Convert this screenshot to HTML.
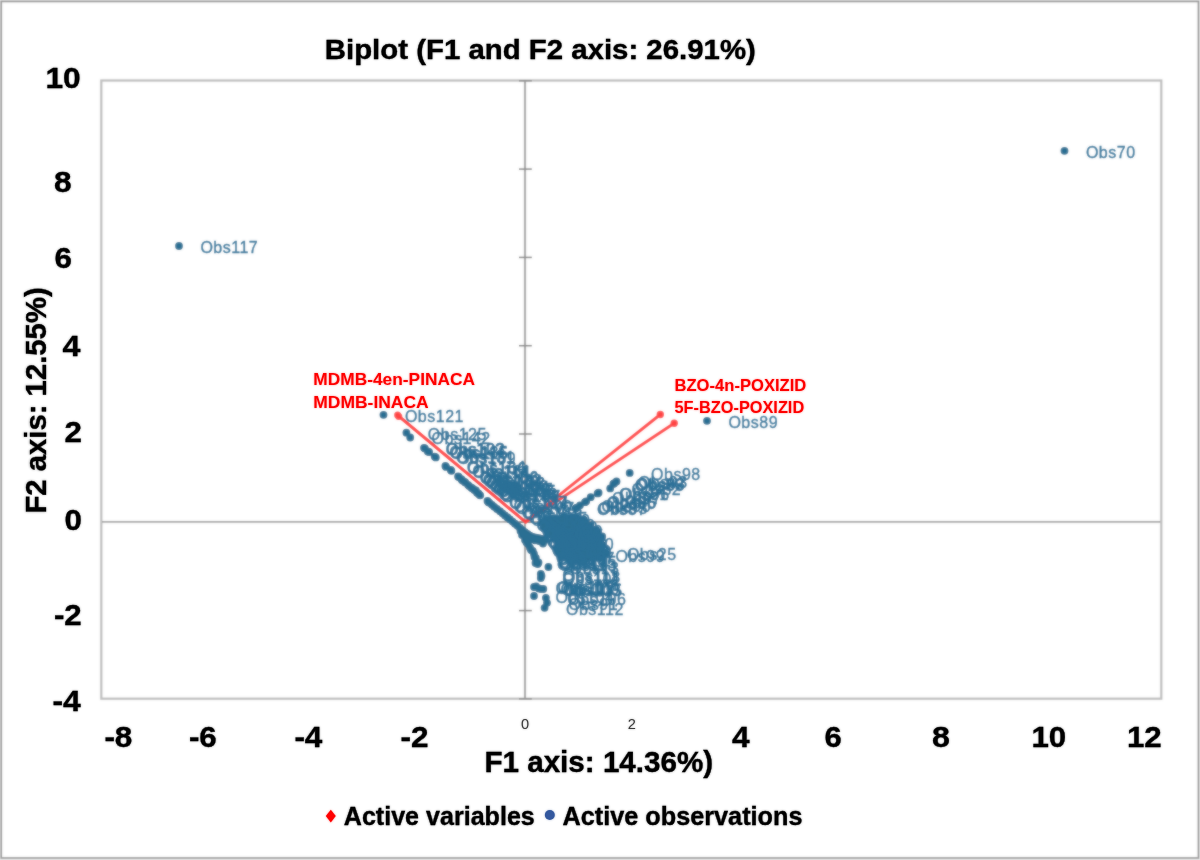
<!DOCTYPE html>
<html lang="en">
<head>
<meta charset="utf-8">
<title>Biplot (F1 and F2 axis: 26.91%)</title>
<style>
html,body{margin:0;padding:0;background:#fff;}
body{width:1200px;height:860px;overflow:hidden;font-family:"Liberation Sans",sans-serif;}
svg{display:block;}
text{font-family:"Liberation Sans",sans-serif;}
.b{font-weight:bold;fill:#000;stroke:#000;stroke-width:0.3px;}
.tk{font-size:29.8px;}
.obs text{font-size:16px;fill:#2c7198;letter-spacing:0.5px;stroke:#2c7198;stroke-width:0.35px;}
.var text{font-size:16.4px;font-weight:bold;fill:#ff0000;}
</style>
</head>
<body>
<svg width="1200" height="860" viewBox="0 0 1200 860">
<defs><filter id="soft" x="0" y="0" width="1200" height="860" filterUnits="userSpaceOnUse"><feGaussianBlur stdDeviation="0.9"/></filter></defs>
<g id="thin">
<rect x="0" y="0" width="1200" height="860" fill="#e6e6e6"/>
<rect x="1.3" y="1.5" width="1197.1" height="856.4" fill="#ffffff" stroke="#9a9a9a" stroke-width="1.6"/>
<rect x="101.3" y="80.5" width="1060" height="618.2" fill="none" stroke="#bcbcbc" stroke-width="2.2"/>
<g fill="none">
<line x1="102" x2="1160.5" y1="521.9" y2="521.9" stroke="#a4a4a4" stroke-width="1.7"/>
<line x1="525" x2="525" y1="81" y2="698" stroke="#a6a6a6" stroke-width="2.1"/>
<g stroke="#868686" stroke-width="1.5">
<line x1="519" x2="531.8" y1="80.8" y2="80.8"/><line x1="519" x2="531.8" y1="169.1" y2="169.1"/><line x1="519" x2="531.8" y1="257.4" y2="257.4"/><line x1="519" x2="531.8" y1="345.7" y2="345.7"/><line x1="519" x2="531.8" y1="434" y2="434"/><line x1="519" x2="531.8" y1="522.3" y2="522.3"/><line x1="519" x2="531.8" y1="610.6" y2="610.6"/><line x1="519" x2="531.8" y1="698.9" y2="698.9"/>
</g>
</g>
<g fill="#2b6f93">
<circle cx="179" cy="246" r="3.9"/>
<circle cx="1064.5" cy="150.8" r="3.9"/>
<circle cx="707" cy="420.8" r="3.9"/>
<circle cx="383.5" cy="414.8" r="3.9"/>
<circle cx="406.4" cy="432.7" r="3.9"/>
<circle cx="410.2" cy="437.5" r="3.9"/>
<circle cx="424" cy="447.8" r="3.9"/>
<circle cx="427.8" cy="451.5" r="3.9"/>
<circle cx="434.7" cy="456.6" r="3.9"/>
<circle cx="445.4" cy="466" r="3.9"/>
<circle cx="450.8" cy="470" r="3.9"/>
<circle cx="458.1" cy="476.5" r="3.9"/>
<circle cx="461.4" cy="479.2" r="3.9"/>
<circle cx="464.6" cy="481.8" r="3.9"/>
<circle cx="468" cy="484.8" r="3.9"/>
<circle cx="471.4" cy="487.7" r="3.9"/>
<circle cx="474.3" cy="490" r="3.9"/>
<circle cx="477" cy="492.8" r="3.9"/>
<circle cx="479.5" cy="494.8" r="3.9"/>
<circle cx="487.5" cy="501" r="3.9"/>
<circle cx="489.5" cy="502.8" r="3.9"/>
<circle cx="492" cy="504.8" r="3.9"/>
<circle cx="494.3" cy="506.8" r="3.9"/>
<circle cx="497" cy="509" r="3.9"/>
<circle cx="500" cy="511.2" r="3.9"/>
<circle cx="502.5" cy="513.3" r="3.9"/>
<circle cx="505" cy="515.4" r="3.9"/>
<circle cx="507.5" cy="517.4" r="3.9"/>
<circle cx="510" cy="519.4" r="3.9"/>
<circle cx="512.6" cy="521.6" r="3.9"/>
<circle cx="515" cy="523.7" r="3.9"/>
<circle cx="517.5" cy="525.8" r="3.9"/>
<circle cx="520" cy="528" r="3.9"/>
<circle cx="522.5" cy="530.2" r="3.9"/>
<circle cx="525" cy="532.2" r="3.9"/>
<circle cx="527.5" cy="534" r="3.9"/>
<circle cx="530" cy="535.6" r="3.9"/>
<circle cx="533" cy="536.8" r="3.9"/>
<circle cx="536" cy="537.6" r="3.9"/>
<circle cx="539" cy="538.2" r="3.9"/>
<circle cx="542" cy="538.8" r="3.9"/>
<circle cx="545" cy="539.4" r="3.9"/>
<circle cx="520.5" cy="531" r="3.9"/>
<circle cx="523.5" cy="534" r="3.9"/>
<circle cx="527" cy="537" r="3.9"/>
<circle cx="531" cy="539" r="3.9"/>
<circle cx="535" cy="540.3" r="3.9"/>
<circle cx="539" cy="541" r="3.9"/>
<circle cx="424.9" cy="448.4" r="3.9"/>
<circle cx="429.1" cy="452" r="3.9"/>
<circle cx="435.8" cy="457.4" r="3.9"/>
<circle cx="446.1" cy="466.9" r="3.9"/>
<circle cx="451.4" cy="470.8" r="3.9"/>
<circle cx="458.8" cy="477" r="3.9"/>
<circle cx="462.4" cy="480.4" r="3.9"/>
<circle cx="465.3" cy="482.4" r="3.9"/>
<circle cx="469.2" cy="486.1" r="3.9"/>
<circle cx="472.6" cy="488.5" r="3.9"/>
<circle cx="475.9" cy="490.4" r="3.9"/>
<circle cx="478.5" cy="493.5" r="3.9"/>
<circle cx="480.2" cy="495.3" r="3.9"/>
<circle cx="488.4" cy="502.2" r="3.9"/>
<circle cx="522" cy="535" r="3.9"/>
<circle cx="525" cy="540" r="3.9"/>
<circle cx="528" cy="544" r="3.9"/>
<circle cx="530" cy="547.7" r="3.9"/>
<circle cx="532.7" cy="551" r="3.9"/>
<circle cx="534" cy="554" r="3.9"/>
<circle cx="535.8" cy="558" r="3.9"/>
<circle cx="536.4" cy="561.6" r="3.9"/>
<circle cx="537.7" cy="564" r="3.9"/>
<circle cx="548.4" cy="567" r="3.9"/>
<circle cx="540.8" cy="574" r="3.9"/>
<circle cx="540.8" cy="578" r="3.9"/>
<circle cx="534" cy="587" r="3.9"/>
<circle cx="539" cy="588.4" r="3.9"/>
<circle cx="543.3" cy="589" r="3.9"/>
<circle cx="534" cy="596" r="3.9"/>
<circle cx="545.9" cy="597.8" r="3.9"/>
<circle cx="547" cy="602.8" r="3.9"/>
<circle cx="544.6" cy="607.8" r="3.9"/>
<circle cx="526.5" cy="542.5" r="3.9"/>
<circle cx="531" cy="550" r="3.9"/>
<circle cx="534.5" cy="557" r="3.9"/>
<circle cx="538.5" cy="562.5" r="3.9"/>
<circle cx="536" cy="586.5" r="3.9"/>
<circle cx="541" cy="589" r="3.9"/>
<circle cx="535.5" cy="563" r="3.9"/>
<circle cx="541.5" cy="576" r="3.9"/>
<circle cx="575.6" cy="508.5" r="3.9"/>
<circle cx="580" cy="505.3" r="3.9"/>
<circle cx="585" cy="502.2" r="3.9"/>
<circle cx="590.7" cy="497.2" r="3.9"/>
<circle cx="597.6" cy="493.4" r="3.9"/>
<circle cx="610.2" cy="488.4" r="3.9"/>
<circle cx="613.3" cy="484" r="3.9"/>
<circle cx="616.5" cy="481.5" r="3.9"/>
<circle cx="629.7" cy="472.9" r="3.9"/>
<circle cx="576.8" cy="507.6" r="3.9"/>
<circle cx="586.2" cy="501.3" r="3.9"/>
<circle cx="598.6" cy="492.7" r="3.9"/>
<circle cx="614.3" cy="483.2" r="3.9"/>
<circle cx="554.3" cy="518.2" r="3.9"/>
<circle cx="561.1" cy="518.4" r="3.9"/>
<circle cx="563.6" cy="517.6" r="3.9"/>
<circle cx="567.5" cy="518.4" r="3.9"/>
<circle cx="571.1" cy="518.4" r="3.9"/>
<circle cx="573.3" cy="517.5" r="3.9"/>
<circle cx="576.5" cy="518.4" r="3.9"/>
<circle cx="546.6" cy="520.6" r="3.9"/>
<circle cx="549.6" cy="519.6" r="3.9"/>
<circle cx="553" cy="519.8" r="3.9"/>
<circle cx="556.3" cy="519.6" r="3.9"/>
<circle cx="558.8" cy="519.8" r="3.9"/>
<circle cx="562.1" cy="520.1" r="3.9"/>
<circle cx="565" cy="521.1" r="3.9"/>
<circle cx="569.2" cy="519.8" r="3.9"/>
<circle cx="571.7" cy="520.1" r="3.9"/>
<circle cx="575" cy="519.7" r="3.9"/>
<circle cx="578.9" cy="521.3" r="3.9"/>
<circle cx="581.3" cy="520.4" r="3.9"/>
<circle cx="583.8" cy="519.7" r="3.9"/>
<circle cx="542.2" cy="522.9" r="3.9"/>
<circle cx="545.2" cy="523.6" r="3.9"/>
<circle cx="548.9" cy="523.6" r="3.9"/>
<circle cx="551.6" cy="522.6" r="3.9"/>
<circle cx="555.6" cy="524" r="3.9"/>
<circle cx="558.8" cy="523.6" r="3.9"/>
<circle cx="561.8" cy="523.5" r="3.9"/>
<circle cx="563.9" cy="523.1" r="3.9"/>
<circle cx="567.2" cy="522.2" r="3.9"/>
<circle cx="569.7" cy="522.7" r="3.9"/>
<circle cx="573.2" cy="523.4" r="3.9"/>
<circle cx="577.6" cy="523" r="3.9"/>
<circle cx="580.6" cy="524" r="3.9"/>
<circle cx="583.8" cy="522.8" r="3.9"/>
<circle cx="585.5" cy="522.6" r="3.9"/>
<circle cx="543.9" cy="526.3" r="3.9"/>
<circle cx="548.1" cy="525.6" r="3.9"/>
<circle cx="550.2" cy="526.6" r="3.9"/>
<circle cx="553.9" cy="525.2" r="3.9"/>
<circle cx="555.9" cy="525.2" r="3.9"/>
<circle cx="560.4" cy="526.3" r="3.9"/>
<circle cx="562.2" cy="526.4" r="3.9"/>
<circle cx="566.8" cy="526.1" r="3.9"/>
<circle cx="568.7" cy="525.9" r="3.9"/>
<circle cx="571.4" cy="524.9" r="3.9"/>
<circle cx="576" cy="526.1" r="3.9"/>
<circle cx="578.3" cy="526.6" r="3.9"/>
<circle cx="581.3" cy="526.5" r="3.9"/>
<circle cx="585.1" cy="525.3" r="3.9"/>
<circle cx="587.2" cy="525.4" r="3.9"/>
<circle cx="590.2" cy="525.9" r="3.9"/>
<circle cx="545.8" cy="527.6" r="3.9"/>
<circle cx="548.7" cy="527.9" r="3.9"/>
<circle cx="551.1" cy="529" r="3.9"/>
<circle cx="554.5" cy="528.4" r="3.9"/>
<circle cx="558.6" cy="528.6" r="3.9"/>
<circle cx="560.9" cy="528.5" r="3.9"/>
<circle cx="564.4" cy="529" r="3.9"/>
<circle cx="566.7" cy="528.6" r="3.9"/>
<circle cx="570.1" cy="528.1" r="3.9"/>
<circle cx="574.1" cy="528.5" r="3.9"/>
<circle cx="576.9" cy="529" r="3.9"/>
<circle cx="580.6" cy="528.4" r="3.9"/>
<circle cx="583.2" cy="528.5" r="3.9"/>
<circle cx="586.1" cy="528.8" r="3.9"/>
<circle cx="589.1" cy="528.5" r="3.9"/>
<circle cx="592.2" cy="529.3" r="3.9"/>
<circle cx="547.8" cy="531.9" r="3.9"/>
<circle cx="549.8" cy="531.6" r="3.9"/>
<circle cx="553.8" cy="530.5" r="3.9"/>
<circle cx="557.3" cy="532" r="3.9"/>
<circle cx="559.2" cy="532" r="3.9"/>
<circle cx="562.6" cy="531.2" r="3.9"/>
<circle cx="566.8" cy="531.8" r="3.9"/>
<circle cx="568.4" cy="531.1" r="3.9"/>
<circle cx="572.1" cy="530.9" r="3.9"/>
<circle cx="574.7" cy="530.9" r="3.9"/>
<circle cx="578.7" cy="530.3" r="3.9"/>
<circle cx="581.5" cy="531.1" r="3.9"/>
<circle cx="583.6" cy="530.9" r="3.9"/>
<circle cx="587.8" cy="531.2" r="3.9"/>
<circle cx="589.9" cy="532.1" r="3.9"/>
<circle cx="594.3" cy="532" r="3.9"/>
<circle cx="596.2" cy="530.8" r="3.9"/>
<circle cx="549" cy="534.2" r="3.9"/>
<circle cx="551.2" cy="533.1" r="3.9"/>
<circle cx="555.4" cy="533.7" r="3.9"/>
<circle cx="557.4" cy="534.7" r="3.9"/>
<circle cx="561.5" cy="534.4" r="3.9"/>
<circle cx="563.6" cy="534.5" r="3.9"/>
<circle cx="566.7" cy="534.5" r="3.9"/>
<circle cx="570.5" cy="533.6" r="3.9"/>
<circle cx="573.7" cy="534.6" r="3.9"/>
<circle cx="576.3" cy="533.2" r="3.9"/>
<circle cx="579.9" cy="533.4" r="3.9"/>
<circle cx="582.2" cy="533.3" r="3.9"/>
<circle cx="585.2" cy="533.3" r="3.9"/>
<circle cx="588.8" cy="533.5" r="3.9"/>
<circle cx="592.7" cy="533.5" r="3.9"/>
<circle cx="595.4" cy="533.3" r="3.9"/>
<circle cx="598.2" cy="533" r="3.9"/>
<circle cx="553.8" cy="537.4" r="3.9"/>
<circle cx="556.3" cy="537.2" r="3.9"/>
<circle cx="560.1" cy="536.8" r="3.9"/>
<circle cx="562.6" cy="536.3" r="3.9"/>
<circle cx="565.1" cy="535.9" r="3.9"/>
<circle cx="568.2" cy="537" r="3.9"/>
<circle cx="571.7" cy="536" r="3.9"/>
<circle cx="574.5" cy="537.2" r="3.9"/>
<circle cx="579" cy="536.9" r="3.9"/>
<circle cx="581" cy="536.1" r="3.9"/>
<circle cx="584.1" cy="536.5" r="3.9"/>
<circle cx="587" cy="536.5" r="3.9"/>
<circle cx="590.3" cy="537.4" r="3.9"/>
<circle cx="594.7" cy="536.7" r="3.9"/>
<circle cx="596.4" cy="537.4" r="3.9"/>
<circle cx="599.7" cy="536.3" r="3.9"/>
<circle cx="602.2" cy="536.4" r="3.9"/>
<circle cx="554.7" cy="538.8" r="3.9"/>
<circle cx="558.3" cy="539.3" r="3.9"/>
<circle cx="561.7" cy="539.6" r="3.9"/>
<circle cx="564.7" cy="540" r="3.9"/>
<circle cx="567.3" cy="539" r="3.9"/>
<circle cx="571.4" cy="538.6" r="3.9"/>
<circle cx="574.1" cy="539.5" r="3.9"/>
<circle cx="575.9" cy="539.9" r="3.9"/>
<circle cx="580.6" cy="539.5" r="3.9"/>
<circle cx="583.4" cy="539.8" r="3.9"/>
<circle cx="585.4" cy="539.3" r="3.9"/>
<circle cx="589.2" cy="539.9" r="3.9"/>
<circle cx="592.8" cy="539.9" r="3.9"/>
<circle cx="595.5" cy="540" r="3.9"/>
<circle cx="598.8" cy="539.6" r="3.9"/>
<circle cx="601.1" cy="538.4" r="3.9"/>
<circle cx="556.9" cy="541.2" r="3.9"/>
<circle cx="560.1" cy="541.5" r="3.9"/>
<circle cx="562" cy="541.5" r="3.9"/>
<circle cx="566.3" cy="541.4" r="3.9"/>
<circle cx="569.4" cy="542.8" r="3.9"/>
<circle cx="572.1" cy="541.8" r="3.9"/>
<circle cx="575.2" cy="542.3" r="3.9"/>
<circle cx="578.8" cy="542.2" r="3.9"/>
<circle cx="581.7" cy="541.2" r="3.9"/>
<circle cx="583.9" cy="541.5" r="3.9"/>
<circle cx="588" cy="541.6" r="3.9"/>
<circle cx="590.8" cy="541.1" r="3.9"/>
<circle cx="593" cy="541.6" r="3.9"/>
<circle cx="597.2" cy="542.3" r="3.9"/>
<circle cx="600.3" cy="541.6" r="3.9"/>
<circle cx="557.6" cy="545.5" r="3.9"/>
<circle cx="560.7" cy="544.8" r="3.9"/>
<circle cx="563.7" cy="544.7" r="3.9"/>
<circle cx="568.3" cy="544" r="3.9"/>
<circle cx="571.1" cy="544.7" r="3.9"/>
<circle cx="574.3" cy="545" r="3.9"/>
<circle cx="576.3" cy="545.4" r="3.9"/>
<circle cx="579.8" cy="543.8" r="3.9"/>
<circle cx="582.1" cy="544.7" r="3.9"/>
<circle cx="586" cy="544.3" r="3.9"/>
<circle cx="588.5" cy="544.4" r="3.9"/>
<circle cx="591.9" cy="545.3" r="3.9"/>
<circle cx="594.5" cy="545.1" r="3.9"/>
<circle cx="599.1" cy="544" r="3.9"/>
<circle cx="602.3" cy="545.1" r="3.9"/>
<circle cx="559.7" cy="546.8" r="3.9"/>
<circle cx="562.6" cy="548.2" r="3.9"/>
<circle cx="566.6" cy="547.9" r="3.9"/>
<circle cx="569.2" cy="548.1" r="3.9"/>
<circle cx="572.9" cy="547.5" r="3.9"/>
<circle cx="575.6" cy="546.6" r="3.9"/>
<circle cx="578.7" cy="547.3" r="3.9"/>
<circle cx="581.9" cy="547.6" r="3.9"/>
<circle cx="584.1" cy="546.6" r="3.9"/>
<circle cx="588.4" cy="546.7" r="3.9"/>
<circle cx="590.6" cy="547.1" r="3.9"/>
<circle cx="593.4" cy="547.8" r="3.9"/>
<circle cx="597.8" cy="546.9" r="3.9"/>
<circle cx="600.3" cy="547" r="3.9"/>
<circle cx="557.9" cy="549.3" r="3.9"/>
<circle cx="560.8" cy="549.6" r="3.9"/>
<circle cx="564.5" cy="550.8" r="3.9"/>
<circle cx="567.9" cy="549.9" r="3.9"/>
<circle cx="570.4" cy="550.1" r="3.9"/>
<circle cx="573.4" cy="549.8" r="3.9"/>
<circle cx="576" cy="549.7" r="3.9"/>
<circle cx="580.7" cy="549.4" r="3.9"/>
<circle cx="583" cy="550.3" r="3.9"/>
<circle cx="586.7" cy="549.5" r="3.9"/>
<circle cx="588.7" cy="549.6" r="3.9"/>
<circle cx="592.1" cy="550" r="3.9"/>
<circle cx="596.2" cy="550.7" r="3.9"/>
<circle cx="599.1" cy="549.2" r="3.9"/>
<circle cx="600.7" cy="550.4" r="3.9"/>
<circle cx="560" cy="553.2" r="3.9"/>
<circle cx="562.7" cy="552.9" r="3.9"/>
<circle cx="565.1" cy="553.3" r="3.9"/>
<circle cx="568.5" cy="553.5" r="3.9"/>
<circle cx="572.4" cy="552.4" r="3.9"/>
<circle cx="574.5" cy="552.3" r="3.9"/>
<circle cx="578.5" cy="553.1" r="3.9"/>
<circle cx="580.7" cy="552" r="3.9"/>
<circle cx="584.5" cy="552.9" r="3.9"/>
<circle cx="587.4" cy="552.3" r="3.9"/>
<circle cx="590.9" cy="551.9" r="3.9"/>
<circle cx="593.4" cy="552.7" r="3.9"/>
<circle cx="597.7" cy="553" r="3.9"/>
<circle cx="600.7" cy="552.7" r="3.9"/>
<circle cx="561.6" cy="554.9" r="3.9"/>
<circle cx="564.9" cy="555.9" r="3.9"/>
<circle cx="567.5" cy="554.9" r="3.9"/>
<circle cx="571.4" cy="555.1" r="3.9"/>
<circle cx="574.2" cy="555" r="3.9"/>
<circle cx="576.2" cy="555.9" r="3.9"/>
<circle cx="579.5" cy="556.3" r="3.9"/>
<circle cx="582.9" cy="554.9" r="3.9"/>
<circle cx="585.6" cy="555.3" r="3.9"/>
<circle cx="589.4" cy="556.3" r="3.9"/>
<circle cx="591.6" cy="555.3" r="3.9"/>
<circle cx="594.8" cy="556.3" r="3.9"/>
<circle cx="597.8" cy="554.6" r="3.9"/>
<circle cx="600.8" cy="555.3" r="3.9"/>
<circle cx="563.6" cy="557.5" r="3.9"/>
<circle cx="566.7" cy="557.6" r="3.9"/>
<circle cx="568.7" cy="558.7" r="3.9"/>
<circle cx="572.7" cy="558" r="3.9"/>
<circle cx="574.4" cy="558.1" r="3.9"/>
<circle cx="578.1" cy="558.9" r="3.9"/>
<circle cx="580.8" cy="557.9" r="3.9"/>
<circle cx="585.2" cy="557.3" r="3.9"/>
<circle cx="587.4" cy="558.7" r="3.9"/>
<circle cx="591.2" cy="557.3" r="3.9"/>
<circle cx="593" cy="557.4" r="3.9"/>
<circle cx="597.7" cy="557.7" r="3.9"/>
<circle cx="594" cy="555.5" r="3.9"/>
<circle cx="605.5" cy="553.5" r="3.9"/>
<circle cx="543" cy="543.5" r="3.9"/>
</g>
<g stroke="#ff3f3f" stroke-width="2.9" stroke-linecap="round" fill="none">
<line x1="525.5" y1="522.0" x2="397.6" y2="415"/>
<line x1="525.5" y1="522.0" x2="398.8" y2="416.4"/>
<line x1="525.5" y1="522.0" x2="660.3" y2="414.5"/>
<line x1="525.5" y1="522.0" x2="674.2" y2="423.3"/>
</g>
<g fill="#ff4545">
<circle cx="397.6" cy="415" r="3.5"/><circle cx="398.8" cy="416.4" r="3.5"/>
<circle cx="660.3" cy="414.5" r="3.7"/><circle cx="674.2" cy="423.3" r="3.7"/>
</g>
<g class="obs">
<text x="200.4" y="252.8">Obs117</text>
<text x="1085.9" y="157.6">Obs70</text>
<text x="728.4" y="427.6">Obs89</text>
<text x="404.9" y="421.6">Obs121</text>
<text x="427.8" y="439.5">Obs125</text>
<text x="431.6" y="444.3">Obs142</text>
<text x="445.4" y="454.6">Obs122</text>
<text x="449.2" y="458.3">Obs135</text>
<text x="456.1" y="463.4">Obs131</text>
<text x="466.8" y="472.8">Obs134</text>
<text x="472.2" y="476.8">Obs161</text>
<text x="479.5" y="483.3">Obs156</text>
<text x="482.8" y="486">Obs132</text>
<text x="486" y="488.6">Obs128</text>
<text x="489.4" y="491.6">Obs160</text>
<text x="492.8" y="494.5">Obs119</text>
<text x="495.7" y="496.8">Obs107</text>
<text x="498.4" y="499.6">Obs148</text>
<text x="500.9" y="501.6">Obs159</text>
<text x="508.9" y="507.8">Obs137</text>
<text x="513.4" y="511.6">Obs100</text>
<text x="515.7" y="513.6">Obs167</text>
<text x="521.4" y="518">Obs101</text>
<text x="523.9" y="520.1">Obs163</text>
<text x="528.9" y="524.2">Obs105</text>
<text x="531.4" y="526.2">Obs130</text>
<text x="536.4" y="530.5">Obs129</text>
<text x="538.9" y="532.6">Obs150</text>
<text x="543.9" y="537">Obs140</text>
<text x="546.4" y="539">Obs41</text>
<text x="551.4" y="542.4">Obs50</text>
<text x="554.4" y="543.6">Obs49</text>
<text x="541.9" y="537.8">Obs162</text>
<text x="544.9" y="540.8">Obs145</text>
<text x="552.4" y="545.8">Obs65</text>
<text x="556.4" y="547.1">Obs32</text>
<text x="446.3" y="455.2">Obs103</text>
<text x="450.5" y="458.8">Obs115</text>
<text x="457.2" y="464.2">Obs169</text>
<text x="467.5" y="473.7">Obs166</text>
<text x="472.8" y="477.6">Obs114</text>
<text x="480.2" y="483.8">Obs106</text>
<text x="483.8" y="487.2">Obs154</text>
<text x="486.7" y="489.2">Obs143</text>
<text x="490.6" y="492.9">Obs164</text>
<text x="494" y="495.3">Obs157</text>
<text x="497.3" y="497.2">Obs165</text>
<text x="499.9" y="500.3">Obs118</text>
<text x="501.6" y="502.1">Obs147</text>
<text x="509.8" y="509">Obs124</text>
<text x="543.4" y="541.8">Obs91</text>
<text x="546.4" y="546.8">Obs118</text>
<text x="549.4" y="550.8">Obs108</text>
<text x="551.4" y="554.5">Obs119</text>
<text x="554.1" y="557.8">Obs110</text>
<text x="555.4" y="560.8">Obs16</text>
<text x="557.2" y="564.8">Obs15</text>
<text x="557.8" y="568.4">Obs105</text>
<text x="559.1" y="570.8">Obs113</text>
<text x="569.8" y="573.8">Obs13</text>
<text x="562.2" y="580.8">Obs111</text>
<text x="562.2" y="584.8">Obs101</text>
<text x="555.4" y="593.8">Obs102</text>
<text x="560.4" y="595.2">Obs100</text>
<text x="564.7" y="595.8">Obs115</text>
<text x="555.4" y="602.8">Obs104</text>
<text x="567.3" y="604.6">Obs106</text>
<text x="568.4" y="609.6">Obs91</text>
<text x="566" y="614.6">Obs112</text>
<text x="547.9" y="549.3">Obs114</text>
<text x="552.4" y="556.8">Obs109</text>
<text x="555.9" y="563.8">Obs107</text>
<text x="559.9" y="569.3">Obs14</text>
<text x="557.4" y="593.3">Obs116</text>
<text x="562.4" y="595.8">Obs103</text>
<text x="556.9" y="569.8">Obs91</text>
<text x="562.9" y="582.8">Obs118</text>
<text x="597" y="515.3">Obs87</text>
<text x="601.4" y="512.1">Obs90</text>
<text x="606.4" y="509">Obs86</text>
<text x="612.1" y="504">Obs97</text>
<text x="619" y="500.2">Obs81</text>
<text x="631.6" y="495.2">Obs82</text>
<text x="634.7" y="490.8">Obs88</text>
<text x="637.9" y="488.3">Obs93</text>
<text x="651.1" y="479.7">Obs98</text>
<text x="598.2" y="514.4">Obs95</text>
<text x="607.6" y="508.1">Obs85</text>
<text x="620" y="499.5">Obs96</text>
<text x="635.7" y="490">Obs83</text>
<text x="615.4" y="562.3">Obs99</text>
<text x="626.9" y="560.3">Obs25</text>
<text x="564.4" y="550.3">Obs10</text>
</g>
</g>
<use href="#thin" filter="url(#soft)" opacity="0.6"/>

<g id="bold">
<text class="b" x="324.8" y="58.8" font-size="27" textLength="431" lengthAdjust="spacingAndGlyphs">Biplot (F1 and F2 axis: 26.91%)</text>
<g class="b tk">
<text x="45.4" y="87.6" textLength="35.3" lengthAdjust="spacingAndGlyphs">10</text>
<text x="53.9" y="192.3" textLength="17.6" lengthAdjust="spacingAndGlyphs">8</text>
<text x="54.4" y="267.5" textLength="17.4" lengthAdjust="spacingAndGlyphs">6</text>
<text x="62.4" y="356.2" textLength="17.9" lengthAdjust="spacingAndGlyphs">4</text>
<text x="64.4" y="441.9" textLength="17.4" lengthAdjust="spacingAndGlyphs">2</text>
<text x="64.4" y="530.0" textLength="17.4" lengthAdjust="spacingAndGlyphs">0</text>
<text x="53.9" y="624.5" textLength="27.8" lengthAdjust="spacingAndGlyphs">-2</text>
<text x="52.4" y="711.2" textLength="28.3" lengthAdjust="spacingAndGlyphs">-4</text>
</g>
<g class="b tk">
<text x="104.4" y="747.3" textLength="28.0" lengthAdjust="spacingAndGlyphs">-8</text>
<text x="188.9" y="747.3" textLength="27.8" lengthAdjust="spacingAndGlyphs">-6</text>
<text x="294.4" y="747.3" textLength="28.0" lengthAdjust="spacingAndGlyphs">-4</text>
<text x="400.6" y="747.3" textLength="28.0" lengthAdjust="spacingAndGlyphs">-2</text>
<text x="731.9" y="746.5" textLength="17.6" lengthAdjust="spacingAndGlyphs">4</text>
<text x="824.4" y="746.5" textLength="17.2" lengthAdjust="spacingAndGlyphs">6</text>
<text x="931.9" y="746.8" textLength="17.9" lengthAdjust="spacingAndGlyphs">8</text>
<text x="1031.4" y="746.8" textLength="34.8" lengthAdjust="spacingAndGlyphs">10</text>
<text x="1126.9" y="746.8" textLength="34.8" lengthAdjust="spacingAndGlyphs">12</text>
</g>
<g fill="#3a3a3a" font-size="14.6">
<text x="521" y="728.6">0</text>
<text x="627.8" y="728.6">2</text>
</g>
<text class="b" x="484.4" y="772.3" font-size="28.8" textLength="228.8" lengthAdjust="spacingAndGlyphs">F1 axis: 14.36%)</text>
<text class="b" transform="translate(45.8 513.6) rotate(-90)" font-size="29.5" textLength="226.3" lengthAdjust="spacingAndGlyphs">F2 axis: 12.55%)</text>
<path d="M330.8 809.8 L335.8 816 L330.8 822.4 L325.8 816 Z" fill="#ff0000"/>
<text class="b" x="343.8" y="825" font-size="25.6" textLength="191" lengthAdjust="spacingAndGlyphs">Active variables</text>
<circle cx="549.8" cy="815" r="5" fill="#34599f"/>
<text class="b" x="562.5" y="825" font-size="25.8" textLength="240" lengthAdjust="spacingAndGlyphs">Active observations</text>
<g class="var">
<text x="313.3" y="385.3" textLength="161.7" lengthAdjust="spacingAndGlyphs">MDMB-4en-PINACA</text>
<text x="313.3" y="408" textLength="115.4" lengthAdjust="spacingAndGlyphs">MDMB-INACA</text>
<text x="674.5" y="390.5" textLength="131.8" lengthAdjust="spacingAndGlyphs">BZO-4n-POXIZID</text>
<text x="674.5" y="413.3" textLength="129.7" lengthAdjust="spacingAndGlyphs">5F-BZO-POXIZID</text>
</g>
</g>
<use href="#bold" filter="url(#soft)" opacity="0.4"/>
</svg>
</body>
</html>
